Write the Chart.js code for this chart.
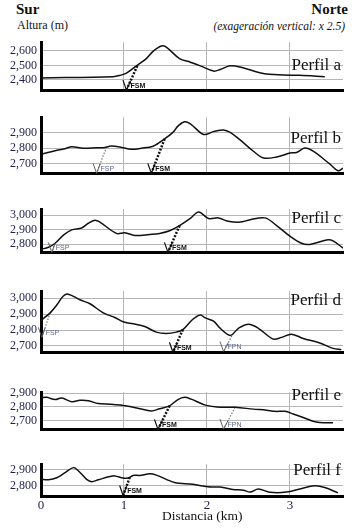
<!DOCTYPE html>
<html>
<head>
<meta charset="utf-8">
<script src="https://cdn.jsdelivr.net/npm/chart.js@4.4.1/dist/chart.umd.min.js"></script>
<style>
body{margin:0;background:#fff;width:364px;height:529px;position:relative;overflow:hidden;font-family:"Liberation Serif",serif;}
.box{position:absolute;left:0;width:364px;}
.txt{position:absolute;white-space:nowrap;line-height:1;color:#111;}
.perfil{position:absolute;right:23px;font-size:17px;line-height:1;color:#111;}
</style>
</head>
<body>
<div class="txt" style="left:16px;top:2px;font-weight:bold;font-size:15px">Sur</div>
<div class="txt" style="right:16px;top:2px;font-weight:bold;font-size:15px">Norte</div>
<div class="txt" style="left:17px;top:19px;font-size:12px">Altura (m)</div>
<div class="txt" style="right:19px;top:21px;font-size:11.5px;font-style:italic">(exageración vertical: x 2.5)</div>

<div class="box" style="top:31px;height:71px"><canvas id="pa" width="364" height="71"></canvas></div>
<div class="box" style="top:106px;height:79px"><canvas id="pb" width="364" height="79"></canvas></div>
<div class="box" style="top:198px;height:66px"><canvas id="pc" width="364" height="66"></canvas></div>
<div class="box" style="top:280px;height:84px"><canvas id="pd" width="364" height="84"></canvas></div>
<div class="box" style="top:381px;height:60px"><canvas id="pe" width="364" height="60"></canvas></div>
<div class="box" style="top:453px;height:59px"><canvas id="pf" width="364" height="59"></canvas></div>

<div class="perfil" style="top:56px">Perfil a</div>
<div class="perfil" style="top:129px">Perfil b</div>
<div class="perfil" style="top:209px">Perfil c</div>
<div class="perfil" style="top:291px">Perfil d</div>
<div class="perfil" style="top:386px">Perfil e</div>
<div class="perfil" style="top:461px">Perfil f</div>

<div class="txt" style="left:162px;top:509px;font-size:13.5px">Distancia (km)</div>

<script>
'use strict';

let distA = [0, 0.87, 0.95, 1.03, 1.15, 1.27, 1.35, 1.45, 1.51, 1.67, 1.80, 1.92, 2.08, 2.16, 2.28, 2.40, 2.68, 2.92, 3.12, 3.42];
let altA = [2414, 2422, 2431, 2447, 2497, 2547, 2597, 2634, 2626, 2547, 2522, 2497, 2461, 2472, 2497, 2489, 2444, 2434, 2432, 2422];

let distB = [0, 0.17, 0.29, 0.37, 0.51, 0.67, 0.75, 0.85, 0.95, 1.09, 1.21, 1.35, 1.49, 1.59, 1.65, 1.73, 1.80, 1.96, 2.08, 2.20, 2.28, 2.40, 2.56, 2.68, 2.84, 3.00, 3.08, 3.18, 3.28, 3.48, 3.58, 3.64];
let altB = [2762, 2784, 2797, 2810, 2800, 2803, 2803, 2814, 2808, 2793, 2800, 2813, 2860, 2901, 2941, 2969, 2956, 2888, 2906, 2917, 2901, 2853, 2781, 2738, 2744, 2769, 2773, 2801, 2781, 2700, 2657, 2673];

let distC = [0, 0.09, 0.17, 0.27, 0.37, 0.49, 0.57, 0.65, 0.71, 0.91, 1.01, 1.13, 1.31, 1.43, 1.55, 1.67, 1.80, 1.90, 2.02, 2.14, 2.24, 2.40, 2.52, 2.70, 2.84, 3.00, 3.14, 3.24, 3.46, 3.52, 3.64];
let altC = [2765, 2778, 2806, 2862, 2898, 2911, 2944, 2965, 2952, 2874, 2879, 2860, 2867, 2874, 2892, 2928, 2977, 3022, 2977, 2981, 2960, 2952, 2968, 2981, 2928, 2855, 2806, 2798, 2830, 2822, 2773];

let distD = [0, 0.11, 0.19, 0.27, 0.33, 0.47, 0.59, 0.75, 0.89, 0.99, 1.11, 1.25, 1.39, 1.51, 1.63, 1.71, 1.83, 1.92, 1.98, 2.08, 2.16, 2.28, 2.38, 2.50, 2.62, 2.80, 2.90, 3.02, 3.16, 3.36, 3.52, 3.62];
let altD = [2860, 2908, 2957, 3014, 3025, 2990, 2965, 2908, 2879, 2852, 2839, 2822, 2787, 2779, 2787, 2803, 2868, 2895, 2876, 2856, 2811, 2766, 2811, 2836, 2811, 2743, 2754, 2774, 2747, 2719, 2685, 2677];

let distE = [0, 0.07, 0.17, 0.25, 0.37, 0.47, 0.57, 0.69, 0.83, 0.95, 1.07, 1.19, 1.33, 1.43, 1.55, 1.65, 1.73, 1.81, 1.98, 2.12, 2.34, 2.56, 2.72, 2.82, 2.94, 3.04, 3.20, 3.28, 3.36, 3.52];
let altE = [2867, 2869, 2853, 2864, 2837, 2848, 2845, 2824, 2819, 2813, 2803, 2787, 2771, 2787, 2808, 2853, 2869, 2856, 2813, 2800, 2797, 2784, 2776, 2768, 2768, 2749, 2715, 2696, 2688, 2685];

let distF = [0, 0.09, 0.19, 0.29, 0.39, 0.45, 0.55, 0.61, 0.69, 0.83, 0.89, 0.99, 1.05, 1.11, 1.19, 1.31, 1.39, 1.61, 1.83, 2.01, 2.16, 2.31, 2.44, 2.52, 2.62, 2.76, 2.96, 3.12, 3.30, 3.42, 3.58];
let altF = [2840, 2837, 2850, 2883, 2915, 2895, 2840, 2825, 2837, 2858, 2862, 2848, 2848, 2865, 2865, 2875, 2867, 2820, 2808, 2792, 2790, 2775, 2770, 2758, 2778, 2757, 2758, 2778, 2798, 2787, 2753];

// fallas: nombre, x arriba, altura arriba, x abajo, altura abajo
let faultsA = [['FSM', 1.16, 2497, 1.03, 2330]];
let faultsB = [['FSP', 0.79, 2808, 0.67, 2640], ['FSM', 1.49, 2860, 1.33, 2640]];
let faultsC = [['FSP', 0.17, 2806, 0.13, 2743], ['FSM', 1.67, 2928, 1.53, 2743]];
let faultsD = [['FSP', 0.11, 2908, 0.01, 2754], ['FSM', 1.71, 2803, 1.59, 2660], ['FPN', 2.30, 2763, 2.20, 2665]];
let faultsE = [['FSM', 1.55, 2808, 1.41, 2638], ['FPN', 2.34, 2797, 2.20, 2640]];
let faultsF = [['FSM', 1.07, 2853, 0.99, 2736]];

let xTicks = [0, 1, 2, 3];
let ticksA = [2400, 2500, 2600];
let ticksB = [2700, 2800, 2900];
let ticksC = [2800, 2900, 3000];
let ticksD = [2700, 2800, 2900, 3000];
let ticksE = [2700, 2800, 2900];
let ticksF = [2800, 2900];

let rangeA = [2325, 2660];
let rangeB = [2637, 2998];
let rangeC = [2740, 3041];
let rangeD = [2657, 3044];
let rangeE = [2635, 2906];
let rangeF = [2733, 2937];

function faultPlugin(faults) {
  return {
    id: 'faultMarks',
    afterDatasetsDraw(chart) {
      let ctx = chart.ctx;
      let xs = chart.scales.x;
      let ys = chart.scales.y;
      faults.forEach(function (f) {
        let tx = xs.getPixelForValue(f[1]);
        let ty = ys.getPixelForValue(f[2]);
        let bx = xs.getPixelForValue(f[3]);
        let by = ys.getPixelForValue(f[4]);
        let len = Math.hypot(tx - bx, ty - by);
        let ux = (tx - bx) / len;
        let uy = (ty - by) / len;
        let main = f[0] === 'FSM';
        ctx.save();
        ctx.strokeStyle = main ? '#111' : '#555';
        ctx.lineWidth = main ? 1.2 : 0.9;
        ctx.beginPath();
        ctx.moveTo(bx - 3.5, by - 10);
        ctx.lineTo(bx, by);
        ctx.lineTo(bx + ux * 10, by + uy * 10);
        ctx.stroke();
        ctx.fillStyle = main ? '#111' : '#5a6690';
        ctx.font = (main ? 'bold ' : '') + '7px "Liberation Sans", sans-serif';
        ctx.textBaseline = 'middle';
        ctx.fillText(f[0], bx + 4, by - 4);
        ctx.restore();
      });
    }
  };
}

function makeChart(id, dist, alt, yTicks, yRange, faults, showX) {
  let datasets = [{
    data: dist.map((d, i) => ({x: d, y: alt[i]})),
    borderColor: '#111',
    borderWidth: 1.5,
    pointRadius: 0,
    tension: 0.35
  }];
  faults.forEach(function (f) {
    let main = f[0] === 'FSM';
    datasets.push({
      data: [{x: f[1], y: f[2]}, {x: f[3], y: f[4]}],
      borderColor: main ? '#111' : '#777',
      borderWidth: main ? 2.5 : 1.2,
      borderDash: main ? [2, 1.5] : [1.5, 1.5],
      pointRadius: 0,
      tension: 0
    });
  });

  new Chart(document.getElementById(id), {
    type: 'line',
    data: {datasets: datasets},
    plugins: [faultPlugin(faults)],
    options: {
      responsive: false,
      animation: false,
      layout: {padding: {top: 2, bottom: showX ? 0 : 2, left: 0, right: 21}},
      plugins: {legend: {display: false}, tooltip: {enabled: false}},
      scales: {
        x: {
          type: 'linear',
          min: 0,
          max: 3.64,
          afterBuildTicks: s => { s.ticks = xTicks.map(v => ({value: v})); },
          afterFit: s => { s.height = showX ? 16 : 0; },
          grid: {color: '#b5b5b5', lineWidth: 1, drawTicks: false},
          border: {color: '#000', width: 3},
          ticks: {display: showX, padding: 2, color: '#1f1f4a', font: {family: 'Liberation Serif', size: 13}}
        },
        y: {
          min: yRange[0],
          max: yRange[1],
          afterBuildTicks: s => { s.ticks = yTicks.map(v => ({value: v})); },
          afterFit: s => { s.width = 41; },
          grid: {color: '#b5b5b5', lineWidth: 1, drawTicks: false},
          border: {color: '#000', width: 3},
          ticks: {
            padding: 4,
            color: '#1f1f4a',
            font: {family: 'Liberation Serif', size: 12},
            callback: v => v.toLocaleString('en-US')
          }
        }
      }
    }
  });
}

makeChart('pa', distA, altA, ticksA, rangeA, faultsA, false);
makeChart('pb', distB, altB, ticksB, rangeB, faultsB, false);
makeChart('pc', distC, altC, ticksC, rangeC, faultsC, false);
makeChart('pd', distD, altD, ticksD, rangeD, faultsD, false);
makeChart('pe', distE, altE, ticksE, rangeE, faultsE, false);
makeChart('pf', distF, altF, ticksF, rangeF, faultsF, true);
</script>
</body>
</html>
